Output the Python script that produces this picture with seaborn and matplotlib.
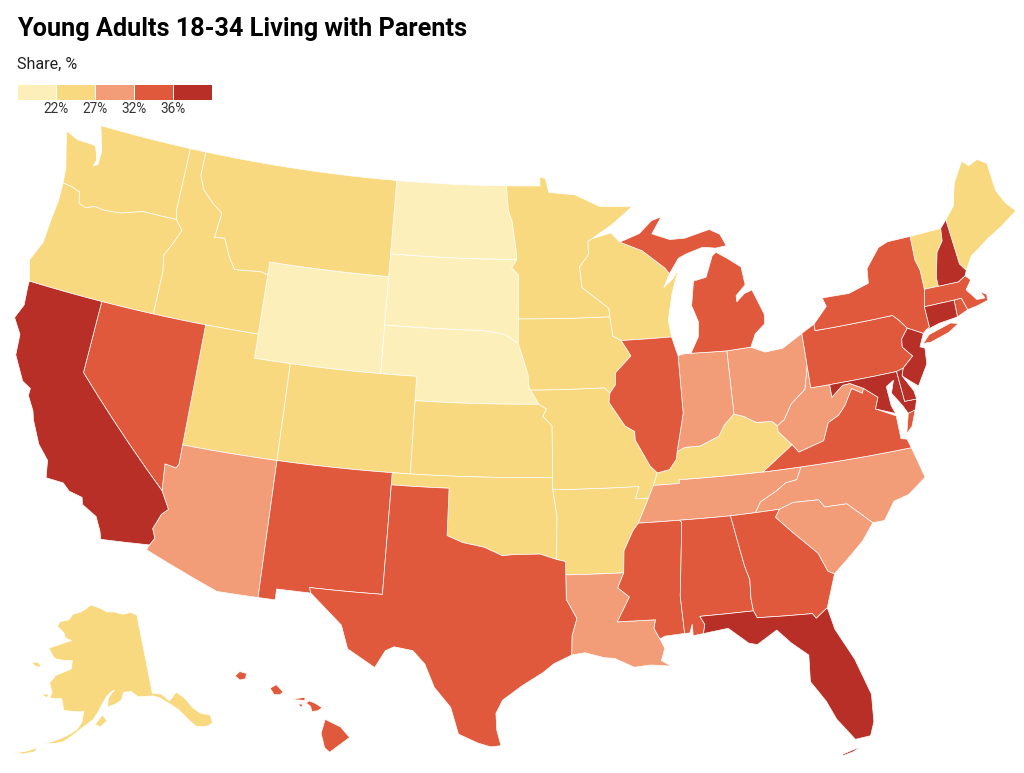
import numpy as np
import pandas as pd
import seaborn as sns
import matplotlib
matplotlib.use('Agg')
import matplotlib.pyplot as plt
from matplotlib.colors import ListedColormap

# Share classes
legend_labels = ['22%', '27%', '32%', '36%']
class_colors = ['#fdefba', '#f9d97f', '#f29d78', '#e0593c', '#b72f26']
class_0 = ['ND', 'SD', 'NE', 'WY']
class_1 = ['WA', 'OR', 'ID', 'MT', 'UT', 'CO', 'KS', 'OK', 'AR', 'MO', 'IA', 'MN', 'WI', 'KY', 'VT', 'ME', 'AK']
class_2 = ['AZ', 'LA', 'TN', 'NC', 'SC', 'WV', 'OH', 'IN']
class_3 = ['NV', 'NM', 'TX', 'MS', 'AL', 'GA', 'VA', 'PA', 'NY', 'MI', 'IL', 'MA', 'RI', 'HI']
class_4 = ['CA', 'FL', 'NH', 'CT', 'NJ', 'MD', 'DE']

# State outlines, lon/lat
WA = [(-124.73,48.38),(-123.9,48.16),(-123.1,48.15),(-122.75,48.12),(-122.45,47.6),(-122.55,47.3),(-122.3,47.4),(-122.3,47.95),(-122.5,48.4),(-122.78,49),(-117.03,49),(-117.04,46.42),(-116.92,46),(-118.98,46),(-119.3,45.93),(-120.2,45.72),(-121.2,45.65),(-121.8,45.7),(-122.3,45.55),(-122.76,45.65),(-122.9,46.1),(-123.4,46.22),(-124,46.27),(-124.1,46.9),(-124.4,47.6)]
OR = [(-124,46.27),(-123.4,46.22),(-122.9,46.1),(-122.76,45.65),(-122.3,45.55),(-121.8,45.7),(-121.2,45.65),(-120.2,45.72),(-119.3,45.93),(-118.98,46),(-116.92,46),(-116.46,45.61),(-116.85,44.95),(-117.2,44.45),(-117.03,43.8),(-117.03,42),(-120,42),(-124.21,42),(-124.55,42.84),(-124.1,43.7),(-124.05,44.7),(-123.95,45.5)]
CA = [(-124.21,42),(-120,42),(-120,39),(-114.63,35),(-114.13,34.3),(-114.43,34.05),(-114.72,33.4),(-114.52,33.03),(-114.72,32.72),(-117.12,32.53),(-117.25,32.85),(-117.6,33.4),(-118.4,33.75),(-118.5,34.03),(-119.2,34.15),(-119.6,34.42),(-120.5,34.45),(-120.65,35.15),(-121.3,35.7),(-121.9,36.6),(-122.05,36.95),(-122.5,37.5),(-122.5,37.8),(-123,38),(-123.75,38.95),(-123.85,39.8),(-124.4,40.4),(-124.1,41),(-124.2,41.75)]
NV = [(-120,42),(-114.04,42),(-114.04,36.2),(-114.15,36.03),(-114.75,36.1),(-114.63,35),(-120,39)]
ID = [(-117.03,49),(-116.05,49),(-116.05,48),(-115.7,47.45),(-114.95,46.95),(-114.35,46.65),(-114.5,45.6),(-113.9,45.65),(-113.45,44.95),(-113,44.45),(-111.5,44.55),(-111.05,44.47),(-111.05,42),(-117.03,42),(-117.03,43.8),(-117.2,44.45),(-116.85,44.95),(-116.46,45.61),(-116.92,46),(-117.04,46.42)]
MT = [(-116.05,49),(-104.05,49),(-104.05,45),(-111.05,45),(-111.05,44.47),(-111.5,44.55),(-113,44.45),(-113.45,44.95),(-113.9,45.65),(-114.5,45.6),(-114.35,46.65),(-114.95,46.95),(-115.7,47.45),(-116.05,48)]
WY = [(-111.05,45),(-104.05,45),(-104.05,41),(-111.05,41)]
UT = [(-114.04,42),(-111.05,42),(-111.05,41),(-109.05,41),(-109.05,37),(-114.04,37)]
CO = [(-109.05,41),(-102.05,41),(-102.05,37),(-109.05,37)]
AZ = [(-114.04,37),(-109.05,37),(-109.05,31.33),(-111.07,31.33),(-114.81,32.5),(-114.72,32.72),(-114.52,33.03),(-114.72,33.4),(-114.43,34.05),(-114.13,34.3),(-114.63,35),(-114.75,36.1),(-114.15,36.03),(-114.04,36.2)]
NM = [(-109.05,37),(-103,37),(-103.04,32),(-106.62,32),(-106.53,31.78),(-108.21,31.78),(-108.21,31.33),(-109.05,31.33)]
ND = [(-104.05,49),(-97.23,49),(-97.1,48),(-96.85,47.5),(-96.6,46.3),(-96.56,45.94),(-104.05,45.94)]
SD = [(-104.05,45.94),(-96.56,45.94),(-96.85,45.6),(-96.45,45.3),(-96.45,42.49),(-97.2,42.85),(-98.5,43),(-104.05,43)]
NE = [(-104.05,43),(-98.5,43),(-97.2,42.85),(-96.45,42.49),(-96.1,41.7),(-95.9,41.2),(-95.85,40.7),(-95.77,40.58),(-95.31,40),(-102.05,40),(-102.05,41),(-104.05,41)]
KS = [(-102.05,40),(-95.31,40),(-94.9,39.8),(-95.1,39.5),(-94.61,39.1),(-94.62,37),(-102.05,37)]
OK = [(-103,37),(-94.62,37),(-94.62,36.5),(-94.43,35.4),(-94.48,33.64),(-95.3,33.87),(-96.6,33.85),(-97.2,33.8),(-98.1,34.13),(-99.2,34.3),(-100,34.56),(-100,36.5),(-103,36.5)]
TX = [(-103,36.5),(-100,36.5),(-100,34.56),(-99.2,34.3),(-98.1,34.13),(-97.2,33.8),(-96.6,33.85),(-95.3,33.87),(-94.48,33.64),(-94.04,33.55),(-94.04,31.99),(-93.55,31.2),(-93.8,30.5),(-93.84,29.7),(-94.7,29.35),(-95.2,29),(-96.2,28.45),(-97.1,27.85),(-97.4,27.3),(-97.35,26.6),(-97.15,25.96),(-97.6,25.9),(-98.2,26.05),(-99.1,26.4),(-99.5,27.5),(-100.3,28.3),(-100.8,29.25),(-101.4,29.77),(-102.3,29.88),(-102.7,29.7),(-103.15,28.97),(-104.5,29.65),(-104.9,30.6),(-106.53,31.78),(-106.62,32),(-103.04,32)]
MN = [(-97.23,49),(-95.15,49),(-95.15,49.38),(-94.8,49.3),(-94.6,48.72),(-93,48.6),(-91.5,48.07),(-89.5,48),(-90.8,47.3),(-92.05,46.75),(-92.3,46.65),(-92.3,46.1),(-92.85,45.6),(-92.75,44.75),(-91.25,43.85),(-91.22,43.5),(-96.45,43.5),(-96.45,45.3),(-96.85,45.6),(-96.56,45.94),(-96.6,46.3),(-96.85,47.5),(-97.1,48)]
IA = [(-96.45,43.5),(-91.22,43.5),(-91.1,42.7),(-90.65,42.5),(-90.15,41.85),(-91.05,41.2),(-91.1,40.7),(-91.42,40.38),(-91.7,40.6),(-95.77,40.58),(-95.85,40.7),(-95.9,41.2),(-96.1,41.7),(-96.45,42.49)]
MO = [(-95.77,40.58),(-91.7,40.6),(-91.42,40.38),(-91.5,40),(-90.7,39),(-90.2,38.75),(-90.2,38.4),(-89.5,37.3),(-89.15,37),(-89.4,36.5),(-89.7,36),(-90.37,36),(-90.15,36.5),(-94.62,36.5),(-94.62,37),(-94.61,39.1),(-95.1,39.5),(-94.9,39.8),(-95.31,40)]
AR = [(-94.62,36.5),(-90.15,36.5),(-90.37,36),(-89.7,36),(-90.3,35),(-90.6,34.7),(-91.1,33.9),(-91.17,33),(-94.04,33),(-94.04,33.55),(-94.48,33.64),(-94.43,35.4)]
LA = [(-94.04,33),(-91.17,33),(-91.5,32.4),(-90.95,32),(-91.6,31),(-89.75,31),(-89.85,30.65),(-89.6,30.2),(-89.4,29.8),(-89.6,29.3),(-89.15,29.05),(-90.1,29.15),(-90.9,29.1),(-91.8,29.5),(-92.3,29.55),(-93.2,29.78),(-93.84,29.7),(-93.8,30.5),(-93.55,31.2),(-94.04,31.99)]
MS = [(-91.17,33),(-91.1,33.9),(-90.6,34.7),(-90.3,35),(-88.2,35),(-88.1,34.9),(-88.47,31.9),(-88.4,30.35),(-89.35,30.3),(-89.6,30.2),(-89.85,30.65),(-89.75,31),(-91.6,31),(-90.95,32),(-91.5,32.4)]
AL = [(-88.2,35),(-85.6,34.98),(-85.18,32.87),(-85,32.3),(-85.05,31.5),(-85,31),(-87.6,31),(-87.4,30.65),(-87.5,30.28),(-88,30.23),(-88,30.7),(-88.15,30.35),(-88.4,30.35),(-88.47,31.9),(-88.1,34.9)]
TN = [(-90.3,35),(-89.7,36),(-89.4,36.5),(-88.05,36.5),(-88.05,36.65),(-83.68,36.6),(-81.68,36.59),(-82,36.1),(-82.6,36.03),(-83.1,35.77),(-84,35.4),(-84.32,34.99),(-85.6,34.98),(-88.2,35)]
KY = [(-89.4,36.5),(-89.15,37),(-88.5,37.1),(-88.1,37.5),(-88.03,37.8),(-87.6,37.95),(-86.8,37.95),(-86.3,38.1),(-85.75,38.27),(-85.4,38.7),(-84.82,39.1),(-84.3,38.95),(-83.7,38.65),(-82.85,38.6),(-82.6,38.4),(-82.6,38.15),(-81.97,37.54),(-83.68,36.6),(-88.05,36.65),(-88.05,36.5)]
VA = [(-83.68,36.6),(-81.97,37.54),(-81.68,37.2),(-80.3,37.5),(-79.9,38.2),(-79.3,38.42),(-78.87,38.77),(-78.35,39.4),(-77.83,39.13),(-77.72,39.32),(-77.05,38.85),(-77.3,38.4),(-76.3,37.95),(-76.3,37.55),(-76.3,37),(-76,36.93),(-75.87,36.55),(-81.68,36.59)]
VA_SHORE = [(-75.95,37.15),(-75.65,37.95),(-75.25,38.03),(-75.6,37.4)]
WV = [(-82.6,38.4),(-82.6,38.15),(-81.97,37.54),(-81.68,37.2),(-80.3,37.5),(-79.9,38.2),(-79.3,38.42),(-78.87,38.77),(-78.35,39.4),(-77.83,39.13),(-77.72,39.32),(-78.4,39.62),(-78.8,39.6),(-79.48,39.2),(-79.48,39.72),(-80.52,39.72),(-80.52,40.64),(-80.85,39.7),(-81.7,39.2),(-82.2,38.6)]
OH = [(-84.82,39.1),(-84.8,41.7),(-83.45,41.73),(-82.7,41.45),(-81.7,41.5),(-80.52,41.98),(-80.52,40.64),(-80.85,39.7),(-81.7,39.2),(-82.2,38.6),(-82.6,38.4),(-82.85,38.6),(-83.7,38.65),(-84.3,38.95)]
IN = [(-87.53,41.71),(-87.2,41.76),(-86.8,41.76),(-84.8,41.7),(-84.82,39.1),(-85.4,38.7),(-85.75,38.27),(-86.3,38.1),(-86.8,37.95),(-87.6,37.95),(-88.03,37.8),(-87.53,39.35)]
IL = [(-90.65,42.5),(-87.8,42.5),(-87.6,41.9),(-87.53,41.71),(-87.53,39.35),(-88.03,37.8),(-88.1,37.5),(-88.5,37.1),(-89.15,37),(-89.5,37.3),(-90.2,38.4),(-90.2,38.75),(-90.7,39),(-91.5,40),(-91.42,40.38),(-91.1,40.7),(-91.05,41.2),(-90.15,41.85)]
WI = [(-92.05,46.75),(-90.9,46.95),(-90.4,46.55),(-89.1,46.13),(-87.85,45.35),(-87.6,45.1),(-88,44.55),(-87.4,44.9),(-87.05,45.25),(-87.55,44.3),(-87.9,43.2),(-87.8,42.5),(-90.65,42.5),(-91.1,42.7),(-91.22,43.5),(-91.25,43.85),(-92.75,44.75),(-92.85,45.6),(-92.3,46.1),(-92.3,46.65)]
MI_LOWER = [(-86.8,41.76),(-86.3,42.4),(-86.2,43),(-86.5,43.7),(-86.25,44.7),(-85.5,44.8),(-85,45.65),(-84.75,45.78),(-84.1,45.45),(-83.4,45.05),(-83.3,44.3),(-83.9,43.9),(-83.9,43.65),(-83.4,43.95),(-82.95,44.05),(-82.45,43),(-82.5,42.6),(-83.1,42.25),(-83.45,41.73),(-84.8,41.7)]
MI_UPPER = [(-90.4,46.55),(-89.2,46.85),(-88.4,47.35),(-87.8,47.47),(-88.45,46.8),(-87.4,46.5),(-86.5,46.5),(-85,46.75),(-84.4,46.5),(-84.1,46),(-84.75,45.95),(-85.5,46.05),(-86.5,45.85),(-87,45.7),(-87.6,45.1),(-87.85,45.35),(-89.1,46.13)]
NY = [(-79.76,42.27),(-78.9,42.9),(-79.05,43.27),(-77.5,43.25),(-76.3,43.5),(-76.2,44.1),(-75.3,44.85),(-74.7,45),(-73.35,45),(-73.4,44),(-73.25,43.55),(-73.27,42.75),(-73.5,42.05),(-73.49,41.2),(-73.73,41.1),(-73.9,41),(-74.7,41.36),(-75.05,41.75),(-75.35,42),(-79.76,42)]
NY_LI = [(-74.03,40.6),(-73.6,40.9),(-72.3,41.15),(-71.9,41.05),(-72.5,40.8),(-73.6,40.58)]
PA = [(-80.52,41.98),(-79.76,42.27),(-79.76,42),(-75.35,42),(-75.05,41.75),(-74.7,41.36),(-75.13,40.98),(-75.2,40.65),(-74.75,40.2),(-75.4,39.8),(-75.79,39.72),(-80.52,39.72)]
NJ = [(-74.7,41.36),(-73.9,41),(-74.25,40.5),(-74,40.4),(-74.1,39.75),(-74.8,38.95),(-75.15,39.2),(-75.55,39.5),(-75.4,39.8),(-74.75,40.2),(-75.2,40.65),(-75.13,40.98)]
DE = [(-75.79,39.72),(-75.4,39.8),(-75.55,39.5),(-75.1,38.8),(-75.05,38.45),(-75.7,38.46)]
MD = [(-79.48,39.72),(-75.79,39.72),(-75.7,38.46),(-75.05,38.45),(-75.25,38.03),(-75.65,37.95),(-75.85,38.3),(-76.3,38.9),(-76.05,39.4),(-76.5,39.2),(-76.45,38.4),(-76.3,38.05),(-77.3,38.4),(-77.05,38.85),(-77.72,39.32),(-78.4,39.62),(-78.8,39.6),(-79.48,39.2)]
CT = [(-73.73,41.1),(-73.49,41.2),(-73.5,42.05),(-71.8,42.02),(-71.85,41.32),(-72.9,41.25)]
RI = [(-71.8,42.02),(-71.38,42.02),(-71.2,41.5),(-71.85,41.32)]
MA = [(-73.5,42.05),(-73.27,42.75),(-71.3,42.7),(-70.85,42.87),(-70.6,42.65),(-71,42.3),(-70.55,41.8),(-70.1,41.78),(-70.25,42.07),(-69.95,41.9),(-70,41.65),(-70.65,41.55),(-71.2,41.5),(-71.38,42.02),(-71.8,42.02)]
VT = [(-73.35,45),(-71.5,45.01),(-71.6,44.5),(-72.05,44.1),(-72.45,43.1),(-72.46,42.73),(-73.27,42.75),(-73.25,43.55),(-73.4,44)]
NH = [(-71.5,45.01),(-71.08,45.3),(-70.98,43.4),(-70.7,43.07),(-70.85,42.87),(-71.3,42.7),(-72.46,42.73),(-72.45,43.1),(-72.05,44.1),(-71.6,44.5)]
ME = [(-71.08,45.3),(-70.4,45.8),(-70.25,46.2),(-70,46.7),(-69.23,47.46),(-68.9,47.2),(-68.3,47.35),(-67.8,47.07),(-67.78,45.9),(-67.45,45.3),(-67,44.85),(-68.1,44.4),(-69,44.1),(-69.8,43.75),(-70.2,43.6),(-70.7,43.07),(-70.98,43.4)]
NC = [(-84.32,34.99),(-84,35.4),(-83.1,35.77),(-82.6,36.03),(-82,36.1),(-81.68,36.59),(-75.87,36.55),(-75.5,35.25),(-76.5,34.7),(-77.3,34.55),(-77.95,33.85),(-78.55,33.85),(-79.67,34.8),(-80.8,34.82),(-81.05,35.15),(-82.35,35.2),(-83.1,35)]
SC = [(-83.1,35),(-82.35,35.2),(-81.05,35.15),(-80.8,34.82),(-79.67,34.8),(-78.55,33.85),(-79.2,33.2),(-79.9,32.7),(-80.85,32.05),(-81.15,32.2),(-81.5,33),(-82.55,33.95),(-83.35,34.7)]
GA = [(-85.6,34.98),(-84.32,34.99),(-83.1,35),(-83.35,34.7),(-82.55,33.95),(-81.5,33),(-81.15,32.2),(-80.85,32.05),(-81.45,30.72),(-82.05,30.36),(-82.2,30.57),(-84.86,30.7),(-85,31),(-85.05,31.5),(-85,32.3),(-85.18,32.87)]
FL = [(-87.6,31),(-85,31),(-84.86,30.7),(-82.2,30.57),(-82.05,30.36),(-81.45,30.72),(-81.25,29.8),(-80.55,28.45),(-80.05,26.9),(-80.15,25.75),(-80.4,25.2),(-81.1,25.15),(-81.8,26.1),(-82.15,26.9),(-82.75,27.8),(-82.65,28.9),(-83.4,29.5),(-84,30.1),(-85,29.6),(-85.4,29.7),(-86.3,30.4),(-87.5,30.28),(-87.4,30.65)]
FL_KEYS = [(-81.8,24.55),(-81.3,24.65),(-80.9,24.8),(-81.2,24.75),(-81.75,24.62)]
AK = [(-141,69.65),(-143,70.1),(-145.5,70),(-148.5,70.4),(-151,70.45),(-153,70.9),(-156.5,71.3),(-158,70.85),(-160,70.35),(-162.5,70),(-163.5,69.3),(-166.2,68.9),(-166.8,68.35),(-164.5,67.7),(-163.7,67.1),(-161.8,66.9),(-163.5,66.6),(-168,65.6),(-166,64.6),(-165.4,64.5),(-163,64.5),(-161,64.6),(-161,63.6),(-163,63.1),(-164.8,62.6),(-166,61.6),(-165,60.6),(-165.3,59.9),(-162.5,60),(-162,59.2),(-161.8,58.7),(-158,58.7),(-157.2,58.8),(-157.5,57.5),(-158.5,56.6),(-160.5,55.8),(-163,55),(-164.8,54.6),(-163,54.7),(-161,55.1),(-159.5,55.8),(-157.5,56.8),(-155,57.9),(-154,58.7),(-153.2,59.5),(-152,60.5),(-151,61),(-150,61.25),(-151.5,60.4),(-151.8,59.3),(-150,59.6),(-148.5,60),(-147.8,60.9),(-146,60.9),(-144.5,60.2),(-141,60),(-139.5,59.6),(-137.5,58.6),(-136,57.7),(-134.8,56.5),(-133.5,55.3),(-131.5,54.9),(-130.1,55),(-130,56),(-131.8,56.6),(-133,57.5),(-134,58.8),(-135.5,59.8),(-136.5,59.4),(-137.5,59),(-139,60),(-141,60.3)]
AK_KODIAK = [(-154.6,57.3),(-153,58.4),(-152,57.7),(-153.5,57)]
AK_STLAWRENCE = [(-171.7,63.4),(-170,63.7),(-168.8,63.3),(-170,63.15)]
AK_NUNIVAK = [(-167.4,60.2),(-165.7,60.3),(-166,59.85)]
AK_ALEUTIANS = [(-170.5,52.7),(-168,53.3),(-166,54),(-166.5,53.4),(-168.5,52.9)]
HI_KAUAI = [(-159.8,22.05),(-159.6,22.23),(-159.3,22.15),(-159.35,21.93),(-159.6,21.88)]
HI_OAHU = [(-158.27,21.55),(-158,21.7),(-157.7,21.4),(-157.85,21.28),(-158.1,21.3)]
HI_MOLOKAI = [(-157.3,21.1),(-156.75,21.18),(-156.75,21.05),(-157.2,21.08)]
HI_LANAI = [(-157.05,20.9),(-156.85,20.9),(-156.9,20.75)]
HI_MAUI = [(-156.7,20.95),(-156.55,21.03),(-156.3,20.93),(-156,20.75),(-156.2,20.62),(-156.45,20.6),(-156.5,20.8)]
HI_BIG = [(-155.87,20.27),(-155.2,19.95),(-154.82,19.52),(-155.68,18.92),(-155.9,19.1),(-156.05,19.7)]

outlines = {
    'WA': [WA], 'OR': [OR], 'CA': [CA], 'NV': [NV], 'ID': [ID], 'MT': [MT], 'WY': [WY], 'UT': [UT], 'CO': [CO],
    'AZ': [AZ], 'NM': [NM], 'ND': [ND], 'SD': [SD], 'NE': [NE], 'KS': [KS], 'OK': [OK], 'TX': [TX], 'MN': [MN],
    'IA': [IA], 'MO': [MO], 'AR': [AR], 'LA': [LA], 'MS': [MS], 'AL': [AL], 'TN': [TN], 'KY': [KY],
    'VA': [VA, VA_SHORE], 'WV': [WV], 'OH': [OH], 'IN': [IN], 'IL': [IL], 'WI': [WI], 'MI': [MI_LOWER, MI_UPPER],
    'NY': [NY, NY_LI], 'PA': [PA], 'NJ': [NJ], 'DE': [DE], 'MD': [MD], 'CT': [CT], 'RI': [RI], 'MA': [MA],
    'VT': [VT], 'NH': [NH], 'ME': [ME], 'NC': [NC], 'SC': [SC], 'GA': [GA], 'FL': [FL, FL_KEYS],
    'AK': [AK, AK_KODIAK, AK_STLAWRENCE, AK_NUNIVAK, AK_ALEUTIANS],
    'HI': [HI_KAUAI, HI_OAHU, HI_MOLOKAI, HI_LANAI, HI_MAUI, HI_BIG],
}

# Projection settings: lon0, center lon/lat, parallels, scale, pixel position of center
proj_main = dict(lon0=-96, clon=-96.6, clat=38.7, p1=29.5, p2=45.5, k=1388, tx=515, ty=436)
proj_ak = dict(lon0=-154, clon=-156, clat=58.5, p1=55, p2=65, k=490, tx=89, ty=714)
proj_hi = dict(lon0=-157, clon=-160, clat=19.9, p1=8, p2=18, k=1400, tx=230, ty=728)


def albers(lon, lat, lon0, p1, p2):
    p1, p2 = np.radians(p1), np.radians(p2)
    n = (np.sin(p1) + np.sin(p2)) / 2
    c = np.cos(p1) ** 2 + 2 * n * np.sin(p1)
    rho = np.sqrt(c - 2 * n * np.sin(np.radians(lat))) / n
    theta = n * np.radians(np.asarray(lon) - lon0)
    return rho * np.sin(theta), -rho * np.cos(theta)


def project(ring, p):
    # split long edges so borders along parallels come out curved
    ring = ring + ring[:1]
    lons, lats = [], []
    for (a, b), (c, d) in zip(ring[:-1], ring[1:]):
        steps = max(1, int(max(abs(c - a), abs(d - b))))
        lons += list(np.linspace(a, c, steps, endpoint=False))
        lats += list(np.linspace(b, d, steps, endpoint=False))
    x, y = albers(np.array(lons), np.array(lats), p['lon0'], p['p1'], p['p2'])
    x0, y0 = albers(p['clon'], p['clat'], p['lon0'], p['p1'], p['p2'])
    return p['tx'] + p['k'] * (x - x0), p['ty'] - p['k'] * (y - y0)


sns.set_theme(style='white')
plt.rcParams['font.family'] = ['Roboto', 'DejaVu Sans']
palette = sns.color_palette(class_colors)

classes = pd.DataFrame(
    [(s, i) for i, group in enumerate([class_0, class_1, class_2, class_3, class_4]) for s in group],
    columns=['state', 'share_class'])

fig = plt.figure(figsize=(10.24, 7.73), dpi=100, facecolor='white')
ax = fig.add_axes([0, 0, 1, 1])
ax.set_xlim(0, 1024)
ax.set_ylim(773, 0)
ax.axis('off')

for row in classes.itertuples():
    p = {'AK': proj_ak, 'HI': proj_hi}.get(row.state, proj_main)
    for ring in outlines[row.state]:
        x, y = project(ring, p)
        ax.fill(x, y, facecolor=palette[row.share_class], edgecolor='white', linewidth=0.5, joinstyle='round')

ax.text(17, 36, 'Young Adults 18-34 Living with Parents', fontsize=18.2, fontweight='bold', color='black')
ax.text(17, 69, 'Share, %', fontsize=11.6, color='#222222')

# legend strip
lax = fig.add_axes([17 / 1024, 1 - 100 / 773, 195 / 1024, 16 / 773])
sns.heatmap(np.arange(5).reshape(1, 5), ax=lax, cmap=ListedColormap(class_colors), cbar=False,
            linewidths=0.6, linecolor='white', xticklabels=False, yticklabels=False)
lax.set_xticks([1, 2, 3, 4])
lax.set_xticklabels(legend_labels, fontsize=9.8, color='#333333', rotation=0)
lax.tick_params(axis='x', length=0, pad=1.5)

fig.savefig('out.png', dpi=100)
